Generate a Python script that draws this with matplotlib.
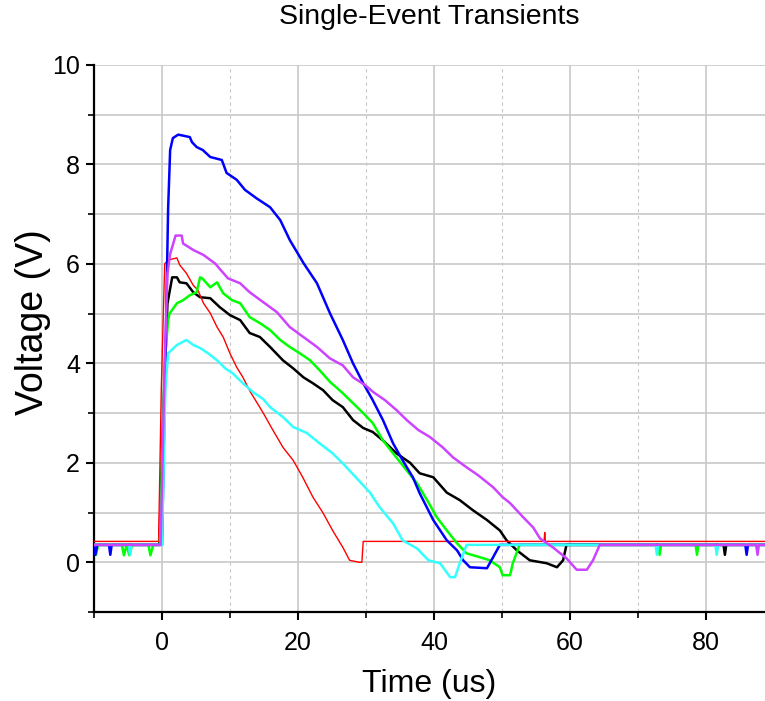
import matplotlib
matplotlib.use("Agg")
import matplotlib.pyplot as plt
from matplotlib.ticker import MultipleLocator

plt.rcParams["font.family"] = ["Liberation Sans", "DejaVu Sans"]

# ---- traces (time in us, voltage in V) ----
black_t = [-10, -0.4, 0.2, 0.8, 1.5, 2.2, 2.6, 3.6, 4.6, 5.6, 7.1, 8.5, 10, 11.5, 12.9,
           14.4, 15.9, 17.8, 19.3, 20.8, 22.2, 23.7, 25.1, 26.6, 28.1, 29.6, 31, 32.5,
           34.5, 36.5, 37.9, 39.9, 41.9, 43.8, 45.7, 47.8, 49.7, 50.7, 52.2, 54.1, 56.6,
           58.1, 59.0, 59.5, 82.6, 82.8, 83.0, 88.7]
black_v = [0.35, 0.35, 3.0, 5.2, 5.73, 5.73, 5.63, 5.61, 5.43, 5.33, 5.31, 5.13, 4.97,
           4.87, 4.61, 4.53, 4.33, 4.06, 3.9, 3.72, 3.6, 3.46, 3.26, 3.12, 2.86, 2.7, 2.62,
           2.45, 2.19, 2.0, 1.79, 1.71, 1.4, 1.25, 1.05, 0.85, 0.64, 0.44, 0.24, 0.04,
           -0.02, -0.1, 0.04, 0.35, 0.35, 0.15, 0.35, 0.35]

red_t = [-10, -0.5, -0.1, 0.4, 0.9, 2.2, 2.6, 3.6, 4.6, 5.3, 6.1, 7.1, 8.1, 9, 10, 11,
         11.9, 12.9, 14.9, 16.3, 17.8, 19.3, 20.7, 22.2, 23.7, 25.1, 26.6, 27.6, 29.0,
         29.4, 29.6, 56.2, 56.3, 56.4, 88.7]
red_v = [0.42, 0.42, 3.5, 6.0, 6.08, 6.12, 5.98, 5.81, 5.57, 5.47, 5.21, 5.01, 4.73,
         4.53, 4.2, 3.92, 3.72, 3.45, 3.0, 2.66, 2.31, 2.05, 1.71, 1.31, 0.99, 0.64, 0.3,
         0.04, 0.0, 0.0, 0.42, 0.42, 0.6, 0.42, 0.42]

green_t = [-10, -9.7, -9.4, -5.9, -5.6, -5.2, -4.8, -4.4, -2.0, -1.7, -1.3, -0.3, 0.4,
           0.9, 1.1, 2.2, 3.1, 4.1, 5.1, 5.6, 6.0, 7.1, 8.1, 9, 10.3, 11.5, 12.9, 14.4,
           15.9, 17.4, 18.8, 20.3, 21.8, 23.2, 24.7, 26.6, 28.1, 29.6, 31, 32.5, 34, 35.4,
           37.5, 39, 40.4, 41.9, 43.4, 44.8, 46.8, 48.2, 49.7, 50.1, 51.2, 51.6, 52.6,
           73.0, 73.2, 73.4, 78.5, 78.7, 78.9, 88.7]
green_v = [0.35, 0.15, 0.35, 0.35, 0.14, 0.35, 0.14, 0.35, 0.35, 0.14, 0.35, 0.35, 4.0,
           4.87, 5.0, 5.21, 5.27, 5.37, 5.43, 5.73, 5.7, 5.53, 5.63, 5.41, 5.27, 5.21,
           4.93, 4.81, 4.67, 4.47, 4.33, 4.2, 4.06, 3.86, 3.63, 3.4, 3.2, 3.0, 2.8, 2.45,
           2.19, 1.95, 1.59, 1.25, 0.91, 0.64, 0.38, 0.18, 0.1, 0.04, -0.1, -0.26, -0.26,
           -0.02, 0.35, 0.35, 0.15, 0.35, 0.35, 0.15, 0.35, 0.35]

blue_t = [-10, -9.8, -9.5, -7.8, -7.6, -7.4, 0.0, 0.5, 0.9, 1.2, 1.6, 2.4, 4.1, 4.4, 5.1,
          6.0, 7.1, 8.8, 9.5, 11, 12.2, 13.9, 15.9, 17.4, 18.8, 20.8, 22.8, 24.7, 26.6,
          28.1, 29.6, 31, 32.5, 34, 35.4, 36.9, 37.9, 39.9, 41.9, 43.4, 44.3, 45.3, 47.8,
          48.7, 49.7, 85.8, 86.0, 86.2, 88.7]
blue_v = [0.35, 0.15, 0.35, 0.35, 0.15, 0.35, 0.35, 4.0, 7.1, 8.29, 8.53, 8.6, 8.55,
          8.45, 8.35, 8.29, 8.15, 8.09, 7.83, 7.69, 7.49, 7.32, 7.14, 6.88, 6.48, 6.02,
          5.61, 5.01, 4.47, 4.0, 3.6, 3.26, 2.86, 2.39, 2.05, 1.71, 1.39, 0.85, 0.44,
          0.24, 0.04, -0.1, -0.12, 0.1, 0.35, 0.35, 0.15, 0.35, 0.35]

cyan_t = [-10, -4.9, -4.7, -4.5, 0.0, 0.5, 0.9, 2.2, 3.6, 4.6, 5.6, 6.8, 8.1, 9.3, 10.4,
          11.9, 13.4, 14.9, 15.9, 17.8, 19.3, 21.3, 23.2, 25.1, 26.6, 28.7, 30.6, 32, 34,
          35.4, 37.5, 39.2, 40.9, 42.4, 43.1, 43.8, 44.8, 72.6, 72.8, 73.0, 81.4, 81.6,
          81.8, 88.7]
cyan_v = [0.35, 0.35, 0.15, 0.35, 0.35, 3.5, 4.2, 4.37, 4.47, 4.37, 4.31, 4.2, 4.06, 3.9,
          3.8, 3.6, 3.42, 3.28, 3.12, 2.92, 2.72, 2.6, 2.39, 2.19, 1.99, 1.68, 1.4, 1.11,
          0.78, 0.44, 0.28, 0.04, -0.02, -0.3, -0.3, -0.02, 0.35, 0.35, 0.15, 0.35, 0.35,
          0.15, 0.35, 0.35]

magenta_t = [-10, -0.2, 0.4, 0.8, 1.2, 2.0, 2.9, 3.1, 4.6, 6.1, 7.8, 9.7, 11.5, 12.9,
             14.9, 16.9, 18.8, 20.8, 22.8, 24.7, 26.6, 28.1, 29.9, 31.1, 32.8, 34.5, 36,
             37.7, 39.4, 41.3, 42.8, 44.8, 46.5, 48.7, 50.1, 51.2, 53.1, 54.6, 55.6, 57.5,
             59.5, 61, 62.5, 63.4, 64.4, 87.4, 87.6, 87.8, 88.7]
magenta_v = [0.35, 0.35, 4.0, 5.8, 6.2, 6.57, 6.57, 6.41, 6.28, 6.18, 6.01, 5.71, 5.61,
             5.43, 5.23, 5.03, 4.73, 4.53, 4.33, 4.1, 3.96, 3.72, 3.56, 3.42, 3.26, 3.06,
             2.86, 2.66, 2.52, 2.31, 2.11, 1.91, 1.75, 1.51, 1.31, 1.19, 0.91, 0.7, 0.48,
             0.3, 0.08, -0.15, -0.15, 0.04, 0.35, 0.35, 0.15, 0.35, 0.35]

traces = [
    (black_t, black_v, "#000000", 1.8),
    (red_t, red_v, "#ff0000", 1.0),
    (green_t, green_v, "#00ff00", 1.8),
    (blue_t, blue_v, "#0000ff", 1.8),
    (cyan_t, cyan_v, "#33ffff", 1.8),
    (magenta_t, magenta_v, "#cc44ff", 1.8),
]

fig = plt.figure(figsize=(7.65, 7.01), dpi=100)
ax = fig.add_axes([94 / 765, 1 - 612 / 701, (765 - 94) / 765, (612 - 65) / 701])

for t, v, col, lw in traces:
    ax.plot(t, v, color=col, lw=lw, zorder=3)

ax.set_xlim(-10, 88.7)
ax.set_ylim(-1, 10)
ax.xaxis.set_major_locator(MultipleLocator(20))
ax.xaxis.set_minor_locator(MultipleLocator(10))
ax.yaxis.set_major_locator(MultipleLocator(2))
ax.yaxis.set_minor_locator(MultipleLocator(1))

ax.grid(True, which="major", axis="x", color="#c8c8c8", lw=1.2, zorder=0)
ax.grid(True, which="minor", axis="x", color="#c8c8c8", lw=0.8, ls=(0, (3, 3)), zorder=0)
ax.grid(True, which="both", axis="y", color="#c8c8c8", lw=1.2, zorder=0)

for s in ("top", "right"):
    ax.spines[s].set_visible(False)
for s in ("left", "bottom"):
    ax.spines[s].set_linewidth(1.6)

ax.tick_params(which="major", direction="out", length=6, width=1.5, labelsize=18, pad=4)
ax.tick_params(axis="x", which="major", pad=8)
ax.tick_params(which="minor", direction="out", length=4, width=1.2)

ax.set_xlabel("Time (us)", fontsize=23, labelpad=10)
ax.set_ylabel("Voltage (V)", fontsize=27)
ax.yaxis.set_label_coords(-0.064, 0.53)
fig.text(429 / 765, 1 - 17 / 701, "Single-Event Transients", fontsize=20.5,
         ha="center", va="center")

fig.savefig("out.png", dpi=100)
